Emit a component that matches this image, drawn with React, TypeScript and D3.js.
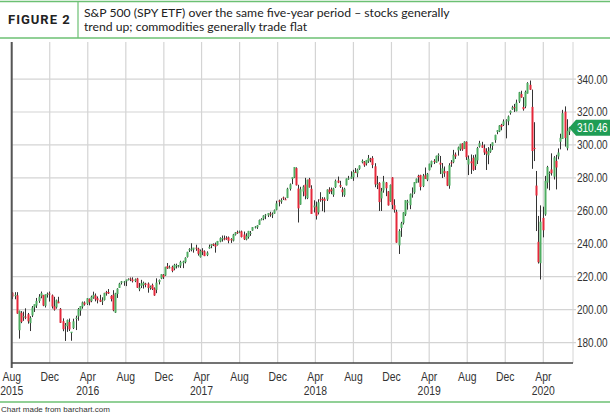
import * as d3 from 'd3';
import React from 'react';

// weekly SPY bars: [week (monday), open, high, low, close]
const bars2015: [string, number, number, number, number][] = [
  ['2015-08-03', 210.3, 210.6, 206.4, 207.9], ['2015-08-10', 208.2, 210.6, 206.3, 209.0],
  ['2015-08-17', 208.7, 210.6, 197.5, 197.6], ['2015-08-24', 187.5, 199.4, 182.4, 199.3],
  ['2015-08-31', 198.1, 199.1, 191.8, 192.6], ['2015-09-07', 195.9, 198.8, 193.2, 196.0],
  ['2015-09-14', 195.7, 200.8, 194.2, 195.5], ['2015-09-21', 197.2, 198.0, 191.5, 192.9],
  ['2015-09-28', 191.8, 196.0, 187.0, 195.0], ['2015-10-05', 196.5, 202.2, 195.5, 201.3],
  ['2015-10-12', 201.4, 203.0, 198.6, 203.3], ['2015-10-19', 202.5, 207.1, 201.0, 205.3],
  ['2015-10-26', 205.2, 209.4, 204.1, 207.9], ['2015-11-02', 208.1, 211.0, 206.9, 210.0],
  ['2015-11-09', 208.9, 209.0, 202.1, 202.5], ['2015-11-16', 202.3, 209.2, 201.3, 209.3],
  ['2015-11-23', 209.4, 210.4, 207.3, 209.6], ['2015-11-30', 209.8, 211.0, 204.9, 209.6],
  ['2015-12-07', 208.7, 209.2, 200.7, 201.9], ['2015-12-14', 202.1, 207.8, 199.4, 200.0],
  ['2015-12-21', 201.4, 206.1, 200.6, 205.7], ['2015-12-28', 204.9, 207.8, 203.9, 203.9],
];

const bars2016: [string, number, number, number, number][] = [
  ['2016-01-04', 200.5, 201.0, 191.9, 192.0], ['2016-01-11', 193.0, 194.7, 186.9, 188.1],
  ['2016-01-18', 189.9, 191.9, 181.0, 190.5], ['2016-01-25', 190.0, 194.0, 186.5, 193.7],
  ['2016-02-01', 192.5, 194.6, 187.0, 188.0], ['2016-02-08', 185.8, 186.1, 181.1, 186.6],
  ['2016-02-15', 188.8, 194.5, 188.2, 192.9], ['2016-02-22', 194.3, 196.3, 187.6, 195.1],
  ['2016-02-29', 195.9, 201.0, 193.3, 200.4], ['2016-03-07', 199.4, 202.2, 196.3, 202.2],
  ['2016-03-14', 201.8, 204.9, 200.6, 204.4], ['2016-03-21', 204.3, 205.0, 202.4, 203.1],
  ['2016-03-28', 203.6, 207.0, 202.8, 206.9], ['2016-04-04', 206.5, 206.8, 202.6, 204.5],
  ['2016-04-11', 205.2, 208.5, 204.5, 207.8], ['2016-04-18', 207.3, 210.9, 206.6, 209.0],
  ['2016-04-25', 208.6, 209.8, 205.0, 206.3], ['2016-05-02', 206.9, 208.0, 203.8, 205.7],
  ['2016-05-09', 206.0, 209.0, 204.6, 204.8], ['2016-05-16', 204.9, 207.5, 202.8, 205.5],
  ['2016-05-23', 205.9, 210.2, 205.5, 210.2], ['2016-05-30', 210.6, 211.4, 208.5, 210.3],
  ['2016-06-06', 210.7, 212.5, 209.5, 209.8], ['2016-06-13', 208.3, 208.8, 205.0, 206.5],
  ['2016-06-20', 209.1, 211.8, 199.0, 199.6], ['2016-06-27', 198.2, 210.2, 198.0, 209.9],
  ['2016-07-04', 209.5, 213.0, 207.1, 212.7], ['2016-07-11', 213.2, 216.3, 213.2, 215.8],
  ['2016-07-18', 216.3, 217.4, 215.3, 217.2], ['2016-07-25', 216.9, 217.4, 214.5, 217.1],
  ['2016-08-01', 217.2, 218.2, 214.3, 218.2], ['2016-08-08', 218.4, 219.0, 217.8, 218.5],
  ['2016-08-15', 218.9, 219.5, 217.3, 218.5], ['2016-08-22', 218.3, 219.6, 216.5, 217.3],
  ['2016-08-29', 217.4, 218.9, 216.7, 218.4], ['2016-09-05', 218.9, 219.3, 213.2, 213.3],
  ['2016-09-12', 212.4, 216.2, 211.2, 213.4], ['2016-09-19', 214.4, 218.1, 213.1, 216.0],
  ['2016-09-26', 215.0, 217.0, 212.8, 216.3], ['2016-10-03', 215.8, 216.3, 213.6, 215.0],
  ['2016-10-10', 215.8, 216.5, 210.3, 213.1], ['2016-10-17', 213.1, 214.6, 212.1, 214.0],
  ['2016-10-24', 215.0, 215.8, 211.9, 212.5], ['2016-10-31', 212.9, 213.5, 208.4, 208.6],
  ['2016-11-07', 212.0, 219.0, 210.0, 216.4], ['2016-11-14', 216.8, 218.3, 215.3, 218.0],
  ['2016-11-21', 218.9, 221.5, 218.5, 221.5], ['2016-11-28', 221.2, 221.6, 218.6, 219.7],
  ['2016-12-05', 220.7, 226.0, 220.4, 226.0], ['2016-12-12', 226.4, 228.3, 224.7, 225.0],
  ['2016-12-19', 225.3, 226.8, 225.0, 225.7], ['2016-12-26', 226.0, 226.7, 222.7, 223.5],
];

const bars2017: [string, number, number, number, number][] = [
  ['2017-01-02', 225.0, 227.8, 223.9, 227.2], ['2017-01-09', 226.9, 227.9, 225.0, 227.1],
  ['2017-01-16', 226.3, 227.1, 225.6, 226.7], ['2017-01-23', 226.7, 229.7, 225.3, 229.0],
  ['2017-01-30', 228.2, 229.7, 225.2, 229.3], ['2017-02-06', 228.9, 231.8, 228.1, 231.5],
  ['2017-02-13', 232.0, 235.1, 231.6, 235.1], ['2017-02-20', 236.0, 237.3, 235.0, 236.7],
  ['2017-02-27', 236.6, 240.3, 235.4, 237.0], ['2017-03-06', 236.4, 237.2, 234.6, 237.7],
  ['2017-03-13', 237.6, 239.4, 235.7, 237.0], ['2017-03-20', 237.0, 237.6, 232.8, 233.9],
  ['2017-03-27', 231.9, 236.5, 231.6, 235.7], ['2017-04-03', 235.8, 237.3, 233.1, 235.2],
  ['2017-04-10', 235.4, 236.0, 232.5, 232.5], ['2017-04-17', 233.1, 235.4, 232.5, 234.6],
  ['2017-04-24', 237.2, 239.5, 237.0, 238.1], ['2017-05-01', 238.7, 239.7, 237.3, 239.7],
  ['2017-05-08', 239.8, 240.2, 238.6, 239.4], ['2017-05-15', 239.5, 240.7, 234.6, 238.3],
  ['2017-05-22', 239.2, 241.7, 238.9, 241.7], ['2017-05-29', 241.3, 243.9, 240.9, 243.4],
  ['2017-06-05', 243.0, 245.0, 241.3, 243.4], ['2017-06-12', 243.1, 245.0, 242.1, 242.6],
  ['2017-06-19', 243.6, 244.6, 242.4, 243.1], ['2017-06-26', 243.9, 244.4, 240.3, 241.8],
  ['2017-07-03', 242.9, 243.4, 240.5, 242.1], ['2017-07-10', 241.9, 246.0, 241.4, 245.6],
  ['2017-07-17', 245.5, 247.1, 245.0, 246.9], ['2017-07-24', 247.0, 248.0, 246.0, 246.9],
  ['2017-07-31', 247.4, 248.0, 246.4, 247.4], ['2017-08-07', 247.5, 248.0, 243.8, 244.1],
  ['2017-08-14', 245.6, 247.4, 242.3, 242.7], ['2017-08-21', 242.6, 246.4, 242.1, 244.6],
  ['2017-08-28', 244.1, 247.8, 243.1, 247.8], ['2017-09-04', 246.5, 247.7, 244.8, 246.6],
  ['2017-09-11', 248.0, 250.1, 247.9, 250.1], ['2017-09-18', 250.3, 250.7, 249.3, 250.4],
  ['2017-09-25', 250.0, 251.3, 249.0, 251.2], ['2017-10-02', 251.5, 254.7, 251.5, 254.4],
  ['2017-10-09', 254.6, 255.5, 254.2, 255.0], ['2017-10-16', 255.2, 257.3, 254.3, 257.1],
  ['2017-10-23', 257.5, 258.1, 254.9, 257.7], ['2017-10-30', 257.2, 258.5, 256.2, 258.7],
  ['2017-11-06', 258.3, 259.4, 256.4, 258.0], ['2017-11-13', 257.3, 259.0, 255.6, 257.9],
  ['2017-11-20', 258.3, 260.8, 258.2, 260.4], ['2017-11-27', 260.6, 266.1, 260.3, 264.5],
  ['2017-12-04', 266.3, 266.8, 262.7, 265.5], ['2017-12-11', 265.6, 267.6, 264.3, 266.5],
  ['2017-12-18', 268.1, 268.6, 266.6, 267.5], ['2017-12-25', 267.0, 268.0, 266.6, 266.9],
];

const bars2018: [string, number, number, number, number][] = [
  ['2018-01-01', 267.8, 274.0, 267.7, 273.4], ['2018-01-08', 273.3, 276.6, 272.3, 276.1],
  ['2018-01-15', 279.4, 280.1, 276.2, 280.4], ['2018-01-22', 280.2, 286.6, 279.9, 286.6],
  ['2018-01-29', 285.9, 286.4, 275.4, 275.5], ['2018-02-05', 273.5, 275.8, 252.9, 261.5],
  ['2018-02-12', 263.8, 274.6, 263.7, 273.1], ['2018-02-19', 271.7, 275.5, 268.8, 274.7],
  ['2018-02-26', 275.9, 280.0, 267.0, 269.1], ['2018-03-05', 267.7, 278.9, 267.1, 278.9],
  ['2018-03-12', 279.2, 280.0, 274.1, 274.2], ['2018-03-19', 273.4, 275.5, 258.6, 258.1],
  ['2018-03-26', 262.1, 266.4, 259.0, 263.2], ['2018-04-02', 262.6, 265.6, 254.7, 257.0],
  ['2018-04-09', 259.0, 267.0, 257.8, 265.2], ['2018-04-16', 267.0, 271.3, 265.5, 266.6],
  ['2018-04-23', 267.3, 268.3, 259.8, 266.6], ['2018-04-30', 267.3, 268.2, 259.1, 266.0],
  ['2018-05-07', 266.9, 273.0, 266.0, 272.9], ['2018-05-14', 272.9, 274.3, 270.3, 271.3],
  ['2018-05-21', 273.0, 274.1, 270.1, 272.0], ['2018-05-28', 269.7, 274.0, 268.5, 273.6],
  ['2018-06-04', 274.4, 279.0, 273.9, 278.2], ['2018-06-11', 278.4, 280.8, 276.8, 277.1],
  ['2018-06-18', 275.6, 278.2, 273.9, 274.7], ['2018-06-25', 272.9, 274.4, 268.5, 271.3],
  ['2018-07-02', 269.5, 274.0, 268.5, 273.4], ['2018-07-09', 275.5, 279.6, 275.4, 279.6],
  ['2018-07-16', 279.6, 281.2, 278.8, 279.7], ['2018-07-23', 279.5, 284.0, 279.5, 280.8],
  ['2018-07-30', 280.4, 284.9, 278.2, 283.6], ['2018-08-06', 283.6, 286.0, 283.2, 283.2],
  ['2018-08-13', 282.7, 285.6, 280.4, 285.1], ['2018-08-20', 285.5, 287.6, 284.9, 287.5],
  ['2018-08-27', 289.4, 291.2, 288.8, 290.3], ['2018-09-03', 289.8, 290.2, 286.7, 287.6],
  ['2018-09-10', 288.7, 290.6, 287.5, 290.9], ['2018-09-17', 290.0, 293.9, 289.1, 292.0],
  ['2018-09-24', 291.3, 292.2, 289.5, 290.7], ['2018-10-01', 292.1, 293.2, 285.9, 287.8],
  ['2018-10-08', 287.0, 288.9, 274.3, 276.0], ['2018-10-15', 275.6, 281.2, 273.2, 276.3],
  ['2018-10-22', 277.0, 277.4, 259.9, 265.3], ['2018-10-29', 267.5, 273.9, 259.9, 271.9],
  ['2018-11-05', 272.4, 281.2, 271.0, 277.8], ['2018-11-12', 277.2, 277.5, 268.9, 273.7],
  ['2018-11-19', 271.8, 272.0, 263.2, 263.3], ['2018-11-26', 265.8, 276.0, 265.5, 275.7],
  ['2018-12-03', 280.3, 280.4, 261.0, 263.6], ['2018-12-10', 263.4, 267.0, 258.9, 260.5],
  ['2018-12-17', 259.4, 260.7, 240.6, 240.7], ['2018-12-24', 239.0, 248.8, 233.8, 247.8],
  ['2018-12-31', 249.6, 253.3, 244.2, 252.4],
];

const bars2019: [string, number, number, number, number][] = [
  ['2019-01-07', 252.7, 259.2, 251.7, 259.0], ['2019-01-14', 257.8, 266.5, 256.9, 266.5],
  ['2019-01-21', 264.8, 266.7, 260.7, 265.8], ['2019-01-28', 263.4, 270.5, 261.0, 270.1],
  ['2019-02-04', 270.1, 274.2, 268.0, 270.5], ['2019-02-11', 271.2, 277.4, 270.3, 277.4],
  ['2019-02-18', 277.0, 279.6, 276.8, 279.5], ['2019-02-25', 281.2, 281.9, 277.1, 280.4],
  ['2019-03-04', 281.7, 281.9, 272.4, 274.5], ['2019-03-11', 275.0, 282.4, 274.4, 281.3],
  ['2019-03-18', 281.6, 286.3, 279.5, 279.3], ['2019-03-25', 278.9, 283.0, 278.0, 282.5],
  ['2019-04-01', 284.7, 288.6, 284.5, 288.6], ['2019-04-08', 288.1, 290.5, 286.4, 290.2],
  ['2019-04-15', 290.3, 291.4, 288.4, 290.0], ['2019-04-22', 289.2, 293.5, 289.1, 293.4],
  ['2019-04-29', 293.5, 294.9, 290.0, 294.0], ['2019-05-06', 289.2, 293.3, 282.3, 288.1],
  ['2019-05-13', 282.4, 289.0, 279.9, 285.8], ['2019-05-20', 284.1, 286.9, 280.6, 282.8],
  ['2019-05-27', 284.0, 284.1, 275.0, 275.3], ['2019-06-03', 275.3, 288.9, 273.4, 287.7],
  ['2019-06-10', 289.4, 290.8, 286.7, 289.3], ['2019-06-17', 289.5, 297.0, 288.9, 294.0],
  ['2019-06-24', 294.2, 295.4, 291.5, 293.0], ['2019-07-01', 296.7, 299.0, 293.5, 298.5],
  ['2019-07-08', 297.6, 300.7, 296.4, 300.7], ['2019-07-15', 300.9, 301.1, 296.4, 297.2],
  ['2019-07-22', 297.6, 302.2, 297.5, 302.0], ['2019-07-29', 301.9, 302.2, 290.9, 292.6],
  ['2019-08-05', 288.1, 293.6, 281.7, 291.6], ['2019-08-12', 290.0, 294.2, 282.4, 288.9],
  ['2019-08-19', 292.2, 293.8, 284.3, 284.9], ['2019-08-26', 287.3, 294.2, 284.8, 292.5],
  ['2019-09-02', 290.6, 298.8, 288.4, 298.1], ['2019-09-09', 299.0, 302.5, 298.4, 301.1],
  ['2019-09-16', 299.8, 301.9, 298.2, 298.3], ['2019-09-23', 298.0, 300.3, 293.9, 295.4],
  ['2019-09-30', 296.0, 298.0, 284.8, 294.4], ['2019-10-07', 293.7, 298.7, 288.3, 296.3],
  ['2019-10-14', 295.9, 300.6, 295.2, 298.0], ['2019-10-21', 299.4, 301.5, 297.0, 301.6],
  ['2019-10-28', 302.9, 306.2, 301.3, 306.1], ['2019-11-04', 307.9, 309.0, 306.5, 308.9],
  ['2019-11-11', 308.2, 312.0, 307.8, 311.8], ['2019-11-18', 312.2, 312.8, 308.9, 311.0],
  ['2019-11-25', 312.1, 315.5, 311.5, 314.3], ['2019-12-02', 314.6, 315.6, 304.0, 314.9],
  ['2019-12-09', 314.4, 317.9, 312.0, 317.3], ['2019-12-16', 319.4, 320.9, 318.4, 320.7],
  ['2019-12-23', 321.6, 323.8, 321.3, 322.9], ['2019-12-30', 323.0, 324.9, 320.0, 322.4],
];

const bars2020: [string, number, number, number, number][] = [
  ['2020-01-06', 320.5, 327.5, 320.4, 325.7], ['2020-01-13', 326.4, 332.2, 325.5, 332.0],
  ['2020-01-20', 330.9, 332.9, 328.7, 328.8], ['2020-01-27', 323.0, 329.0, 320.8, 321.7],
  ['2020-02-03', 323.4, 333.0, 322.3, 332.2], ['2020-02-10', 331.2, 338.1, 331.2, 337.6],
  ['2020-02-17', 336.5, 339.1, 333.4, 333.5], ['2020-02-24', 323.1, 333.6, 285.5, 296.3],
  ['2020-03-02', 298.2, 313.8, 290.2, 297.5], ['2020-03-09', 275.3, 284.2, 247.7, 269.3],
  ['2020-03-16', 241.2, 256.9, 228.0, 228.8], ['2020-03-23', 228.2, 263.3, 218.3, 253.4],
  ['2020-03-30', 255.7, 262.5, 243.9, 248.2], ['2020-04-06', 257.8, 281.2, 257.0, 278.2],
  ['2020-04-13', 277.1, 287.3, 273.5, 286.6], ['2020-04-20', 282.6, 283.9, 272.5, 283.0],
  ['2020-04-27', 285.1, 294.9, 281.4, 282.8], ['2020-05-04', 280.7, 293.2, 279.0, 292.4],
  ['2020-05-11', 290.3, 294.0, 273.0, 286.3], ['2020-05-18', 293.0, 297.9, 291.3, 295.4],
  ['2020-05-25', 301.9, 306.8, 297.3, 304.3], ['2020-06-01', 303.6, 321.3, 303.6, 319.3],
  ['2020-06-08', 320.2, 323.4, 299.0, 304.2], ['2020-06-15', 298.0, 315.6, 296.7, 308.6],
  ['2020-06-22', 308.0, 311.0, 306.0, 310.46],
];

const lastPrice = 310.46;
const priceTicks = [180, 200, 220, 240, 260, 280, 300, 320, 340];
const monthTicks = ['2015-08', '2015-12', '2016-04', '2016-08', '2016-12', '2017-04', '2017-08',
  '2017-12', '2018-04', '2018-08', '2018-12', '2019-04', '2019-08', '2019-12', '2020-04'];
const titleLines = [
  'S&P 500 (SPY ETF) over the same five-year period \u2013 stocks generally',
  'trend up; commodities generally trade flat',
];

const GREEN_LINE = '#6cc073';
const UP = '#4fad62';
const DOWN = '#e5283b';
const axisFont = "'Liberation Sans', Arial, sans-serif";
const SQUEEZE = 0.8; // axis labels are a narrow face

export default function App() {
  const parseDay = d3.timeParse('%Y-%m-%d');
  const parseMonth = d3.timeParse('%Y-%m');
  const bars = [...bars2015, ...bars2016, ...bars2017, ...bars2018, ...bars2019, ...bars2020]
    .map(([d, o, h, l, c]) => ({ date: parseDay(d) as Date, o, h, l, c }));

  // plot box
  const left = 11.7, right = 573, top = 42, bottom = 363;

  const x = d3.scaleTime()
    .domain([new Date(2015, 7, 1), new Date(2020, 3, 1)])
    .range([left, 543.3]);
  const y = d3.scaleLinear()
    .domain([167.6, 362.5])
    .range([bottom, top]);

  const fmtMonth = d3.timeFormat('%b');
  const fmtYear = d3.timeFormat('%Y');
  const fmtPrice = d3.format('.2f');

  const ticks = monthTicks.map((m, i) => {
    const date = parseMonth(m) as Date;
    const prev = i > 0 ? (parseMonth(monthTicks[i - 1]) as Date) : null;
    const showYear = !prev || prev.getFullYear() !== date.getFullYear();
    return { date, month: fmtMonth(date), year: showYear ? fmtYear(date) : '' };
  });

  const ly = y(lastPrice);

  return (
    <svg width={610} height={414} style={{ position: 'absolute', left: 0, top: 0, background: '#fff' }}>
      {/* header */}
      <line x1={0} x2={610} y1={1.5} y2={1.5} stroke={GREEN_LINE} strokeWidth={1.5} />
      <line x1={0} x2={610} y1={38} y2={38} stroke={GREEN_LINE} strokeWidth={1.5} />
      <line x1={78} x2={78} y1={2} y2={38} stroke={GREEN_LINE} strokeWidth={1.2} />
      <text x={8} y={24} fontFamily="Roboto, 'DejaVu Sans', sans-serif" fontWeight={700}
        fontSize={13} letterSpacing={1} fill="#222">FIGURE 2</text>
      {titleLines.map((t, i) => (
        <text key={i} x={84} y={17 + i * 14} fontFamily="Lato, 'Open Sans', sans-serif"
          fontSize={12.2} fill="#222">{t}</text>
      ))}

      {/* grid */}
      {priceTicks.map(v => (
        <line key={v} x1={left} x2={576} y1={y(v)} y2={y(v)} stroke="#d4d4d4" strokeWidth={1.2} />
      ))}
      {ticks.map((t, i) => (
        <line key={i} x1={x(t.date)} x2={x(t.date)} y1={top} y2={bottom} stroke="#d4d4d4" strokeWidth={1.2} />
      ))}
      <line x1={right} x2={right} y1={top} y2={bottom} stroke="#d4d4d4" strokeWidth={1} />

      {/* candles */}
      {bars.map((b, i) => {
        const cx = Math.round(x(b.date));
        const yo = y(b.o), yc = y(b.c);
        const up = b.c >= b.o;
        return (
          <g key={i}>
            <line x1={cx + 0.5} x2={cx + 0.5} y1={y(b.h)} y2={y(b.l)} stroke="#333" strokeWidth={1} />
            <rect x={cx - 0.5} width={2} y={Math.min(yo, yc)} height={Math.max(1, Math.abs(yo - yc))}
              fill={up ? UP : DOWN} />
          </g>
        );
      })}

      {/* axes */}
      <line x1={left} x2={left} y1={top} y2={368} stroke="#555" strokeWidth={2} />
      <line x1={left} x2={right} y1={bottom} y2={bottom} stroke="#444" strokeWidth={1.5} />

      {ticks.map((t, i) => (
        <g key={i} fontFamily={axisFont} fontSize={13} fill="#333" textAnchor="middle">
          <text transform={`translate(${x(t.date)},381) scale(${SQUEEZE},1)`}>{t.month}</text>
          {t.year && <text transform={`translate(${Math.max(x(t.date), 11.5)},395) scale(${SQUEEZE},1)`}>{t.year}</text>}
        </g>
      ))}
      {priceTicks.map(v => (
        <text key={v} transform={`translate(577,${y(v) + 4.5}) scale(${SQUEEZE},1)`}
          fontFamily={axisFont} fontSize={12.5} fill="#333">{fmtPrice(v)}</text>
      ))}

      {/* last price tag */}
      <path d={`M569,${ly} L576,${ly - 8} L610,${ly - 8} L610,${ly + 8} L576,${ly + 8} Z`} fill="#1f9d55" />
      <text transform={`translate(577,${ly + 4.5}) scale(${SQUEEZE},1)`} fontFamily={axisFont}
        fontSize={12.5} fill="#fff">{fmtPrice(lastPrice)}</text>

      {/* footer */}
      <line x1={0} x2={610} y1={402} y2={402} stroke={GREEN_LINE} strokeWidth={1.5} />
      <text x={1} y={412} fontFamily="'Liberation Sans', Arial, sans-serif" fontSize={8} fill="#333">Chart made from barchart.com</text>
    </svg>
  );
}
